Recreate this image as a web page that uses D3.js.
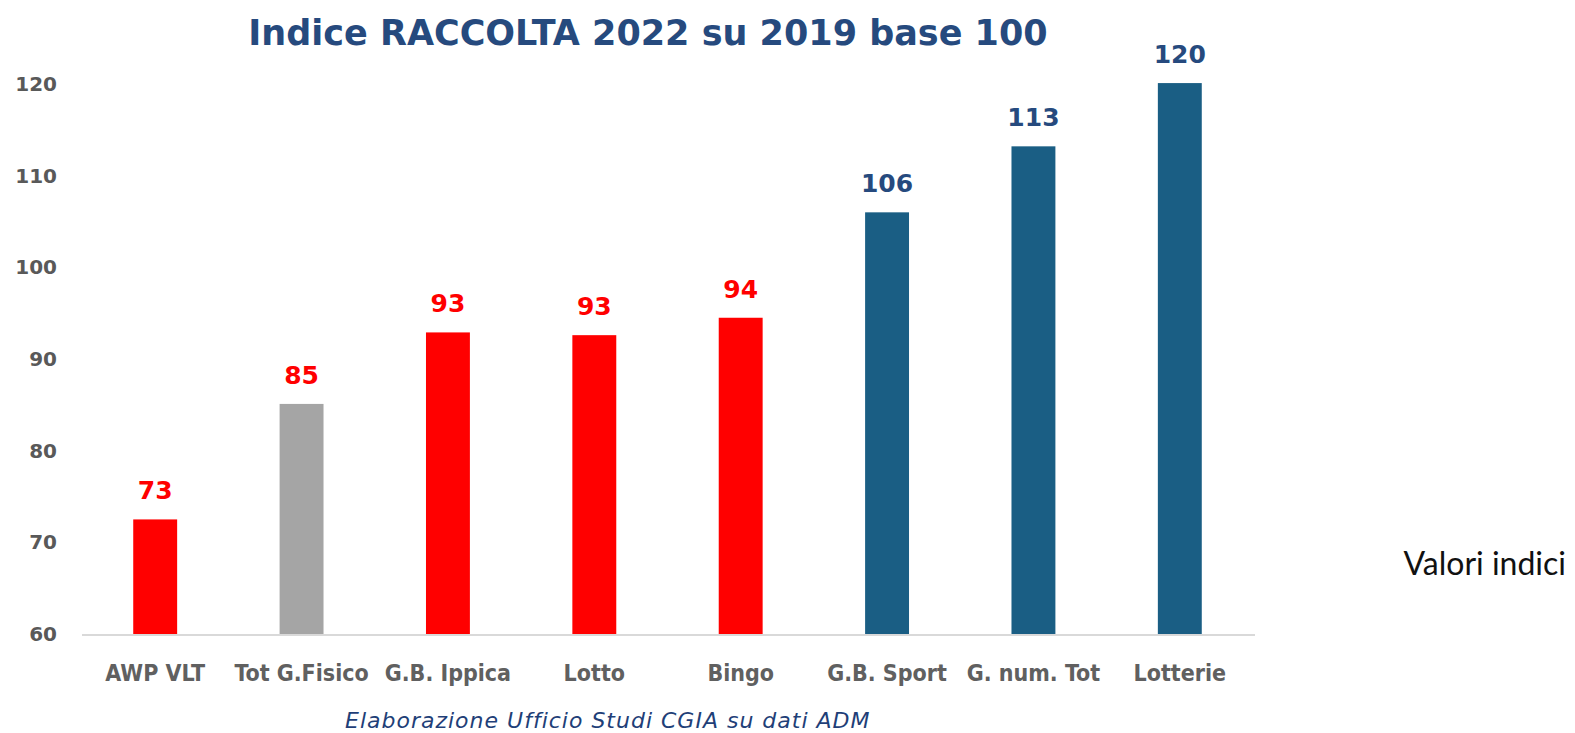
<!DOCTYPE html>
<html>
<head>
<meta charset="utf-8">
<script src="https://cdn.jsdelivr.net/npm/d3@7"></script>
<style>
  body { margin: 0; background: #fff; }
</style>
</head>
<body>
<script>
// Data
const categories = ['AWP VLT', 'Tot G.Fisico', 'G.B. Ippica', 'Lotto', 'Bingo', 'G.B. Sport', 'G. num. Tot', 'Lotterie']
const values = [72.5, 85.1, 92.9, 92.6, 94.5, 106.0, 113.2, 120.1]
const valueLabels = ['73', '85', '93', '93', '94', '106', '113', '120']
const groups = ['down', 'total', 'down', 'down', 'down', 'up', 'up', 'up']
const yTicks = [60, 70, 80, 90, 100, 110, 120]

const barColors = { down: '#FF0000', total: '#A5A5A5', up: '#1A5E84' }
const labelColors = { down: '#FF0000', total: '#FF0000', up: '#264A7E' }

function initializeSVG (width, height) {
  return d3.select('body')
    .append('svg')
    .attr('width', width)
    .attr('height', height)
}

function drawChart (svg) {
  const x = d3.scaleBand()
    .domain(categories)
    .range([82, 1253])
    .paddingInner(0.7)
    .paddingOuter(0.35)

  const y = d3.scaleLinear()
    .domain([60, 120])
    .range([634, 84])

  // title
  svg.append('text')
    .attr('x', 648)
    .attr('y', 45)
    .attr('text-anchor', 'middle')
    .style('font-family', '"DejaVu Sans", sans-serif')
    .style('font-weight', 'bold')
    .style('font-size', '35px')
    .style('fill', '#264A7E')
    .text('Indice RACCOLTA 2022 su 2019 base 100')

  // y axis (labels only)
  const yAxis = svg.append('g')
    .attr('transform', 'translate(57,0)')
    .call(d3.axisLeft(y).tickValues(yTicks).tickSize(0).tickPadding(0))
  yAxis.select('.domain').remove()
  yAxis.selectAll('text')
    .style('font-family', '"DejaVu Sans", sans-serif')
    .style('font-weight', 'bold')
    .style('font-size', '20px')
    .style('fill', '#595959')

  // bars
  svg.append('g')
    .selectAll('rect')
    .data(values)
    .join('rect')
    .attr('x', (d, i) => x(categories[i]))
    .attr('y', d => y(d))
    .attr('width', x.bandwidth())
    .attr('height', d => y(60) - y(d))
    .style('fill', (d, i) => barColors[groups[i]])

  // baseline
  svg.append('line')
    .attr('x1', 82)
    .attr('x2', 1255)
    .attr('y1', y(60) + 1)
    .attr('y2', y(60) + 1)
    .style('stroke', '#D9D9D9')
    .style('stroke-width', 2)

  // value labels
  svg.append('g')
    .selectAll('text')
    .data(values)
    .join('text')
    .attr('x', (d, i) => x(categories[i]) + x.bandwidth() / 2)
    .attr('y', d => y(d) - 20)
    .attr('text-anchor', 'middle')
    .style('font-family', '"DejaVu Sans", sans-serif')
    .style('font-weight', 'bold')
    .style('font-size', '25px')
    .style('fill', (d, i) => labelColors[groups[i]])
    .text((d, i) => valueLabels[i])

  // x axis labels
  const xAxis = svg.append('g')
    .attr('transform', 'translate(0,' + (y(60) + 1) + ')')
    .call(d3.axisBottom(x).tickSize(0).tickPadding(0))
  xAxis.select('.domain').remove()
  xAxis.selectAll('text')
    .attr('dy', '0')
    .attr('y', 46)
    .style('font-family', '"DejaVu Sans Condensed", "DejaVu Sans", sans-serif')
    .style('font-stretch', 'condensed')
    .style('font-weight', 'bold')
    .style('font-size', '23px')
    .style('fill', '#606060')

  // side note
  svg.append('text')
    .attr('x', 1566)
    .attr('y', 575)
    .attr('text-anchor', 'end')
    .style('font-family', 'Lato, sans-serif')
    .style('font-size', '32px')
    .style('fill', '#111')
    .text('Valori indici')

  // source
  svg.append('text')
    .attr('x', 345)
    .attr('y', 728)
    .style('font-family', '"DejaVu Sans", sans-serif')
    .style('font-style', 'italic')
    .style('font-size', '22px')
    .style('letter-spacing', '1px')
    .style('fill', '#1F3F78')
    .text('Elaborazione Ufficio Studi CGIA su dati ADM')
}

const svg = initializeSVG(1575, 733)
drawChart(svg)
</script>
</body>
</html>
